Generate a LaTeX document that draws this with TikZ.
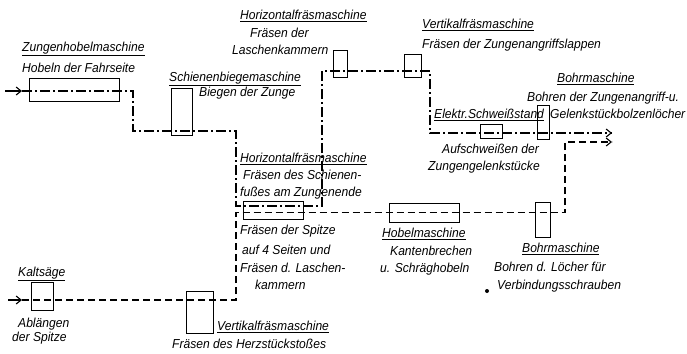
\documentclass[tikz,border=0pt]{standalone}
\usepackage{fontspec}
\setmainfont{Liberation Sans}[FakeStretch=0.93]
\usetikzlibrary{arrows.meta}
\tikzset{
  lbl/.style={anchor=base west, inner sep=0pt, font=\fontsize{13}{15}\selectfont\itshape},
  mbox/.style={draw, line width=0.9pt, inner sep=0pt},
  dashdot/.style={line width=1.2pt, dash pattern=on 10pt off 3pt on 2pt off 3pt},
  dashline/.style={line width=1.2pt, dash pattern=on 7pt off 4pt},
  inarrow/.style={line width=1.2pt, -{Straight Barb[length=5pt,width=8pt,line width=1.1pt]}},
  tip/.style={-{Straight Barb[length=5pt,width=8pt,line width=1.1pt]}}
}
\newcommand{\ul}[1]{\underline{#1}}
\begin{document}
\begin{tikzpicture}[x=1pt,y=-1pt]
\useasboundingbox (0,0) rectangle (687,353);

% ---- boxes (machines)
\node[mbox, minimum width=90pt, minimum height=23pt] (zh) at (74,89.5) {};
\node[mbox, minimum width=21pt, minimum height=47pt] (sb) at (181.5,111.5) {};
\node[mbox, minimum width=60pt, minimum height=18pt] (hf) at (273,210) {};
\node[mbox, minimum width=14pt, minimum height=27pt] (lk) at (340,63.5) {};
\node[mbox, minimum width=17pt, minimum height=23pt] (zl) at (412.5,65.5) {};
\node[mbox, minimum width=22pt, minimum height=14pt] (ss) at (491,131) {};
\node[mbox, minimum width=12pt, minimum height=34pt] (bt) at (543,122) {};
\node[mbox, minimum width=22pt, minimum height=28pt] (ks) at (42,296) {};
\node[mbox, minimum width=27pt, minimum height=42pt] (hz) at (199.5,312) {};
\node[mbox, minimum width=70pt, minimum height=19pt] (hb) at (424,212.5) {};
\node[mbox, minimum width=15pt, minimum height=35pt] (bl) at (542.5,219.5) {};

% ---- path coordinates
\coordinate (a0) at (5,91);
\coordinate (a1) at (22,91);
\coordinate (c1) at (133,91);
\coordinate (c2) at (133,131);
\coordinate (c3) at (236,131);
\coordinate (c4) at (236,206);
\coordinate (c5) at (322,206);
\coordinate (c6) at (322,71);
\coordinate (c7) at (430,71);
\coordinate (c8) at (430,133);
\coordinate (e1) at (612,133);

\coordinate (b0) at (8,300);
\coordinate (b1) at (22,300);
\coordinate (d1) at (236,300);
\coordinate (d2) at (236,212.5);
\coordinate (d3) at (565,212.5);
\coordinate (d4) at (565,142);
\coordinate (e2) at (612,142);

% ---- flow lines
\draw[inarrow] (a0) -- (a1);
\draw[dashdot] (a1) -- (c1) -- (c2) -- (c3) -- (c4) -- (c5) -- (c6) -- (c7) -- (c8) -- (e1);
\draw[line width=1.2pt, tip] ([xshift=-2pt]e1) -- (e1);

\draw[inarrow] (b0) -- (b1);
\draw[dashline] (b1) -- (d1) -- (d2) -- (d3) -- (d4) -- (e2);
\draw[line width=1.2pt, tip] ([xshift=-2pt]e2) -- (e2);

% ---- labels
\node[lbl] (t1) at (22,51.5) {\ul{Zungenhobelmaschine}};
\node[lbl] (t2) at (22,72.5) {Hobeln der Fahrseite};
\node[lbl] (t3) at (169,81.5) {\ul{Schienenbiegemaschine}};
\node[lbl] (t4) at (199,96.5) {Biegen der Zunge};
\node[lbl] (t5) at (240,19.5) {\ul{Horizontalfräsmaschine}};
\node[lbl] (t6) at (250,37.5) {Fräsen der};
\node[lbl] (t7) at (232,54.5) {Laschenkammern};
\node[lbl] (t8) at (422,28.5) {\ul{Vertikalfräsmaschine}};
\node[lbl] (t9) at (422,48.5) {Fräsen der Zungenangriffslappen};
\node[lbl] (t10) at (557,82.5) {\ul{Bohrmaschine}};
\node[lbl] (t11) at (527,101.5) {Bohren der Zungenangriff-u.};
\node[lbl] (t12) at (550,118.5) {Gelenkstückbolzenlöcher};
\node[lbl] (t13) at (434,118.5) {\ul{Elektr.Schweißstand}};
\node[lbl] (t14) at (442,153.5) {Aufschweißen der};
\node[lbl] (t15) at (428,170.5) {Zungengelenkstücke};
\node[lbl] (t16) at (240,162.5) {\ul{Horizontalfräsmaschine}};
\node[lbl] (t17) at (243,179.5) {Fräsen des Schienen-};
\node[lbl] (t18) at (240,196.5) {fußes am Zungenende};
\node[lbl] (t19) at (240,234.5) {Fräsen der Spitze};
\node[lbl] (t20) at (242,254.5) {auf 4 Seiten und};
\node[lbl] (t21) at (240,272.5) {Fräsen d. Laschen-};
\node[lbl] (t22) at (255,289.5) {kammern};
\node[lbl] (t23) at (382,237.5) {\ul{Hobelmaschine}};
\node[lbl] (t24) at (390,255.5) {Kantenbrechen};
\node[lbl] (t25) at (380,272.5) {u. Schräghobeln};
\node[lbl] (t26) at (522,252.5) {\ul{Bohrmaschine}};
\node[lbl] (t27) at (494,271.5) {Bohren d. Löcher für};
\node[lbl] (t28) at (497,289.5) {Verbindungsschrauben};
\node[lbl] (t29) at (18,276.5) {\ul{Kaltsäge}};
\node[lbl] (t30) at (18,327.5) {Ablängen};
\node[lbl] (t31) at (12,341.5) {der Spitze};
\node[lbl] (t32) at (217,330.5) {\ul{Vertikalfräsmaschine}};
\node[lbl] (t33) at (172,348.5) {Fräsen des Herzstückstoßes};

\fill (487,291) circle (2pt);
\end{tikzpicture}
\end{document}
